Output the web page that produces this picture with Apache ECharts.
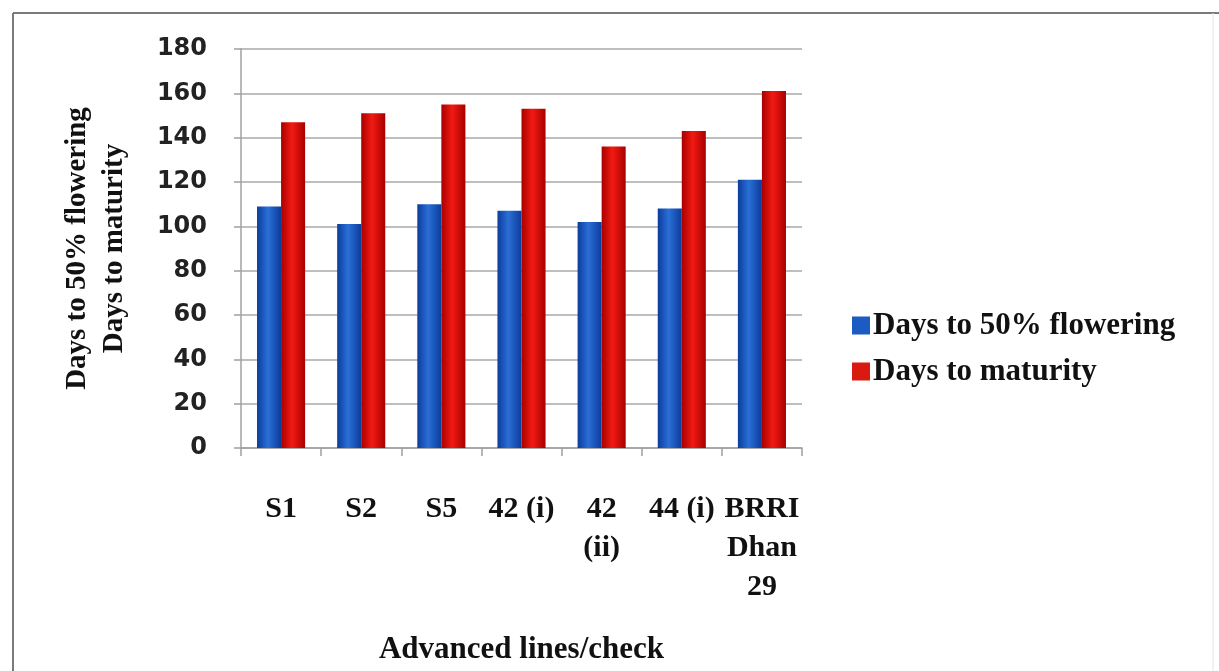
<!DOCTYPE html>
<html>
<head>
<meta charset="utf-8">
<script src="https://cdn.jsdelivr.net/npm/echarts@6/dist/echarts.min.js"></script>
<style>
html,body{margin:0;padding:0;background:#fff;}
#chart{width:1219px;height:671px;}
</style>
</head>
<body>
<div id="chart"></div>
<script>
const categories = ['S1', 'S2', 'S5', '42 (i)', '42\n(ii)', '44 (i)', 'BRRI\nDhan\n29'];
const flowering = [109, 101, 110, 107, 102, 108, 121];
const maturity = [147, 151, 155, 153, 136, 143, 161];
const seriesNames = ['Days to 50% flowering', 'Days to maturity'];
const yTicks = [0, 20, 40, 60, 80, 100, 120, 140, 160, 180];

const serif = '"Liberation Serif", "DejaVu Serif", serif';
const sans = '"DejaVu Sans", Verdana, sans-serif';

function hGrad(edge, mid) {
  return new echarts.graphic.LinearGradient(0, 0, 1, 0, [
    {offset: 0, color: edge},
    {offset: 0.45, color: mid},
    {offset: 1, color: edge}
  ]);
}

const chart = echarts.init(document.getElementById('chart'), null, {renderer: 'canvas'});
chart.setOption({
  animation: false,
  backgroundColor: '#fff',
  graphic: [
    {type: 'line', shape: {x1: 13, y1: 13, x2: 1219, y2: 13}, style: {stroke: '#7a7a7a', lineWidth: 2}},
    {type: 'line', shape: {x1: 13, y1: 13, x2: 13, y2: 671}, style: {stroke: '#7a7a7a', lineWidth: 2}},
    {type: 'line', shape: {x1: 1213, y1: 13, x2: 1213, y2: 671}, style: {stroke: '#e4e4e4', lineWidth: 1}}
  ],
  grid: {left: 241, right: 417, top: 49, bottom: 223, containLabel: false},
  legend: {
    orient: 'vertical',
    left: 847,
    top: 305,
    itemWidth: 18,
    itemHeight: 18,
    itemGap: 15,
    icon: 'rect',
    textStyle: {fontFamily: serif, fontSize: 31, fontWeight: 'bold', color: '#111', padding: [0, 0, 0, -2]},
    data: [
      {name: seriesNames[0], itemStyle: {color: '#1b5bc2'}},
      {name: seriesNames[1], itemStyle: {color: '#d91a10'}}
    ]
  },
  xAxis: {
    type: 'category',
    data: categories,
    name: 'Advanced lines/check',
    nameLocation: 'middle',
    nameGap: 186,
    nameTextStyle: {fontFamily: serif, fontSize: 31, fontWeight: 'bold', color: '#111'},
    axisLine: {lineStyle: {color: '#a0a0a0', width: 1.5}},
    axisTick: {show: true, inside: false, length: 8, alignWithLabel: false, lineStyle: {color: '#a0a0a0', width: 1.5}},
    axisLabel: {
      interval: 0,
      margin: 42,
      fontFamily: serif,
      fontSize: 30,
      fontWeight: 'bold',
      color: '#111',
      lineHeight: 39
    }
  },
  yAxis: {
    type: 'value',
    min: 0,
    max: 180,
    interval: 20,
    name: 'Days to 50% flowering\nDays to maturity',
    nameLocation: 'middle',
    nameGap: 108,
    nameRotate: 90,
    nameTextStyle: {fontFamily: serif, fontSize: 29, fontWeight: 'bold', color: '#111', lineHeight: 37},
    axisLine: {show: true, lineStyle: {color: '#a0a0a0', width: 1.5}},
    axisTick: {show: true, inside: false, length: 7, lineStyle: {color: '#a0a0a0', width: 1.5}},
    axisLabel: {
      margin: 34,
      fontFamily: sans,
      fontSize: 24,
      fontWeight: 'bold',
      color: '#222',
      formatter: function (v) { return yTicks.indexOf(v) >= 0 ? String(v) : ''; }
    },
    splitLine: {show: true, lineStyle: {color: '#a8a8a8', width: 1.5}}
  },
  series: [
    {
      name: seriesNames[0],
      type: 'bar',
      data: flowering,
      barGap: '0%',
      barCategoryGap: '40%',
      itemStyle: {color: hGrad('#0b3c9c', '#2a6fd6')}
    },
    {
      name: seriesNames[1],
      type: 'bar',
      data: maturity,
      barGap: '0%',
      barCategoryGap: '40%',
      itemStyle: {color: hGrad('#a80000', '#f21a12')}
    }
  ]
});
</script>
</body>
</html>
